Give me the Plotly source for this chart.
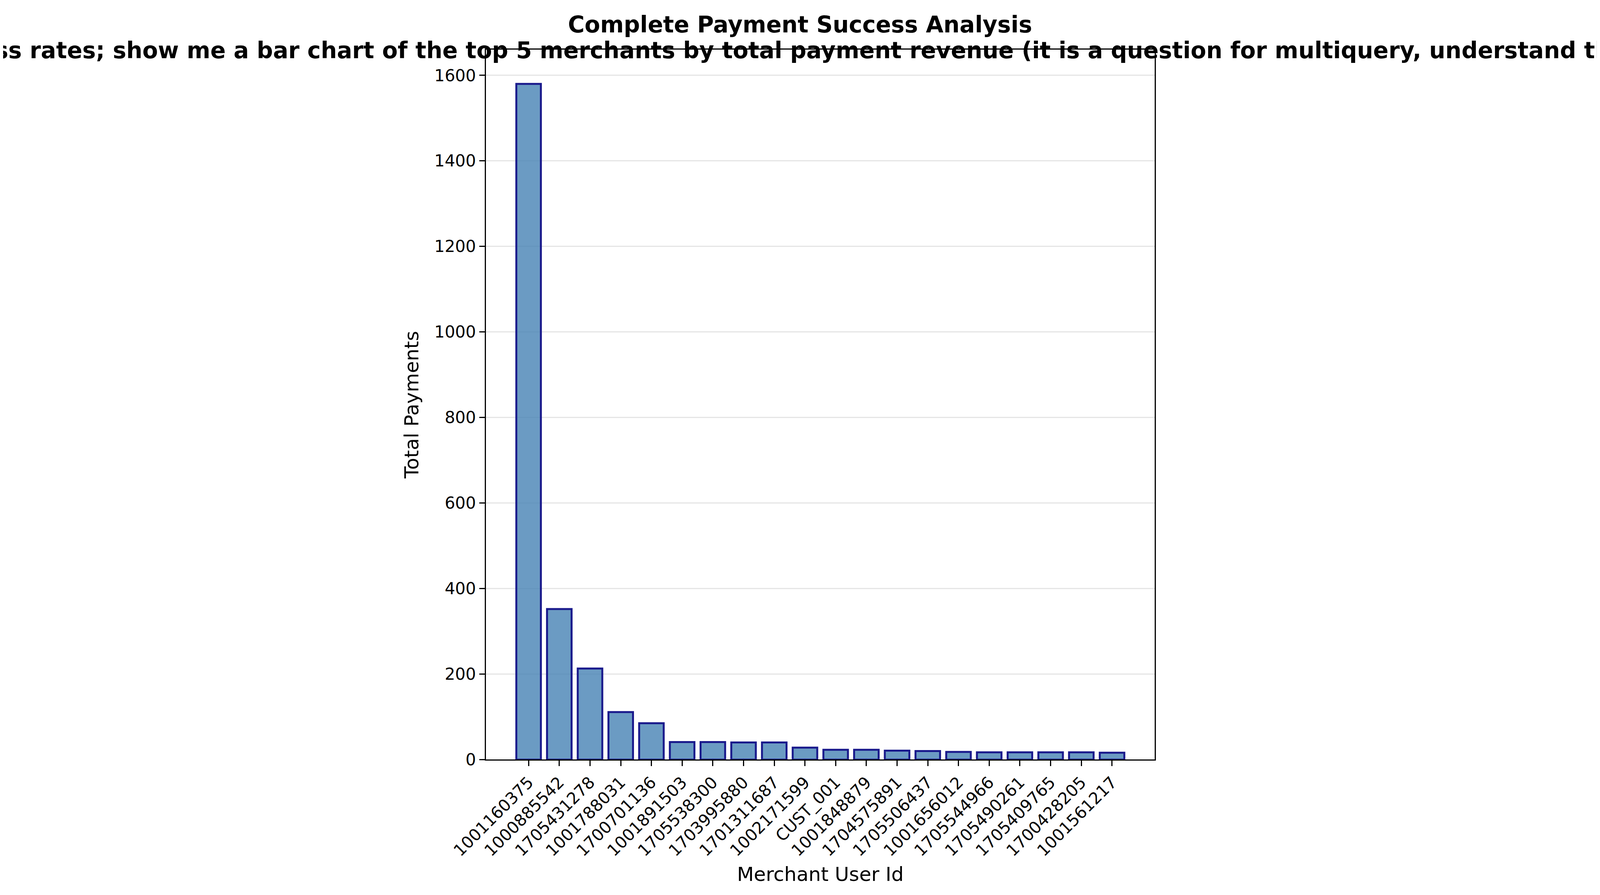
import plotly.graph_objects as go

# Данные
merchants = ['1001160375', '1000885542', '1705431278', '1001788031', '1700701136',
             '1001891503', '1705538300', '1703995880', '1701311687', '1002171599',
             'CUST_001', '1001848879', '1704575891', '1705506437', '1001656012',
             '1705544966', '1705490261', '1705409765', '1700428205', '1001561217']
total_payments = [1580, 352, 213, 111, 85, 41, 41, 40, 40, 28,
                  23, 23, 21, 20, 18, 17, 17, 17, 17, 16]
y_ticks = [0, 200, 400, 600, 800, 1000, 1200, 1400, 1600]

title_line1 = "Complete Payment Success Analysis"
title_line2 = ("Generated from: Show me a pie chart of payment success rates; show me a bar chart "
               "of the top 5 merchants by total payment revenue (it is a question for multiquery, "
               "understand there are 2 queries for a pie chart and one for bar graph)")

W, H = 7883, 2291
FONT = 'DejaVu Sans'

fig = go.Figure()
fig.add_trace(go.Bar(
    x=list(range(len(merchants))),
    y=total_payments,
    width=0.8,
    marker=dict(color='rgba(70,130,180,0.8)', line=dict(color='#1a1a8c', width=5)),
))

# Размеры через доли, чтобы картинка заполняла окно
fig.update_layout(
    autosize=True,
    margin=dict(l=0, r=0, t=0, b=0, autoexpand=False),
    paper_bgcolor='white', plot_bgcolor='white',
    font=dict(family=FONT, size=42, color='black'),
    showlegend=False,
)
fig.add_annotation(text="<b>" + title_line1 + "</b>", xref='paper', yref='paper',
                   x=0.5, y=1 - 55 / H, xanchor='center', yanchor='middle',
                   showarrow=False, font=dict(family=FONT, size=58))
fig.add_annotation(text="<b>" + title_line2 + "</b>", xref='paper', yref='paper',
                   x=0.5, y=1 - 122 / H, xanchor='center', yanchor='middle',
                   showarrow=False, font=dict(family=FONT, size=58))

fig.update_xaxes(
    domain=[2388 / W, 5696 / W],
    range=[-1.39, 20.39],
    tickmode='array', tickvals=list(range(len(merchants))), ticktext=merchants,
    tickangle=-45, ticks='outside', ticklen=14, tickwidth=3, tickcolor='black',
    showgrid=False, zeroline=False,
    showline=True, linecolor='black', linewidth=3, mirror=True,
    title=dict(text='Merchant User Id', font=dict(size=50), standoff=20),
)
fig.update_yaxes(
    domain=[341 / H, 1 - 120 / H],
    range=[0, 1660],
    tickmode='array', tickvals=y_ticks,
    ticks='outside', ticklen=14, tickwidth=3, tickcolor='black',
    showgrid=True, gridcolor='rgba(0,0,0,0.1)', gridwidth=3, zeroline=False,
    showline=True, linecolor='black', linewidth=3, mirror=True,
    title=dict(text='Total Payments', font=dict(size=50), standoff=25),
)

fig.write_html("out.html", config={'responsive': True})
